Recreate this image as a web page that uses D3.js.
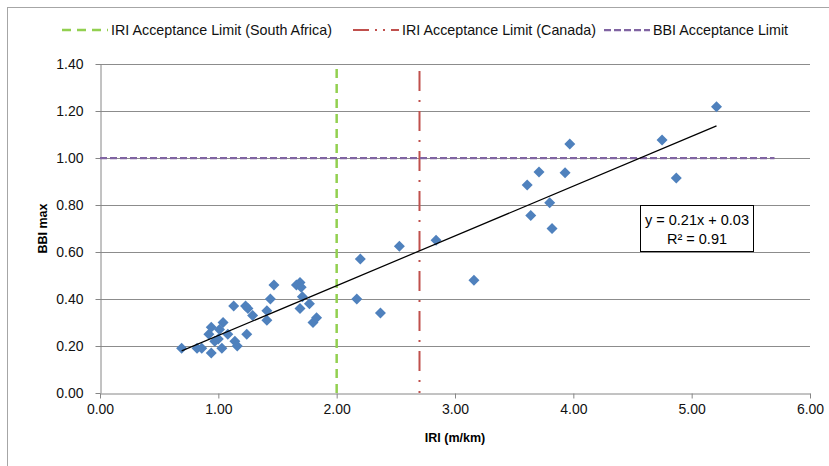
<!DOCTYPE html>
<html>
<head>
<meta charset="utf-8">
<script src="https://cdn.jsdelivr.net/npm/d3@7"></script>
<style>
  body { margin: 0; background: #fff; }
  svg { display: block; font-family: "Liberation Sans", Arial, sans-serif; }
</style>
</head>
<body>
<div id="chart"></div>
<script>
// measured IRI (m/km) and BBI max
const iri = [0.69, 0.82, 0.86, 0.94, 0.92, 0.94, 0.97, 1.00, 1.03, 1.01, 1.04, 1.08, 1.13, 1.14, 1.16,
  1.24, 1.23, 1.25, 1.29, 1.41, 1.41, 1.44, 1.47, 1.66, 1.69, 1.70, 1.71, 1.69, 1.77, 1.80, 1.83,
  2.17, 2.20, 2.37, 2.53, 2.84, 3.16, 3.61, 3.64, 3.71, 3.80, 3.82, 3.93, 3.97, 4.75, 4.87, 5.21];
const bbi = [0.19, 0.19, 0.19, 0.17, 0.25, 0.28, 0.22, 0.23, 0.19, 0.27, 0.30, 0.25, 0.37, 0.22, 0.20,
  0.25, 0.37, 0.36, 0.33, 0.35, 0.31, 0.40, 0.46, 0.46, 0.47, 0.45, 0.41, 0.36, 0.38, 0.30, 0.32,
  0.40, 0.57, 0.34, 0.625, 0.65, 0.48, 0.885, 0.755, 0.94, 0.81, 0.70, 0.937, 1.06, 1.077, 0.915, 1.218];

// acceptance limit series
const saLimitX = [2.0, 2.0];
const saLimitY = [0, 1.4];
const caLimitX = [2.7, 2.7];
const caLimitY = [0, 1.37];
const bbiLimitX = [0, 5.7];
const bbiLimitY = [1.0, 1.0];

const xTicks = [0, 1, 2, 3, 4, 5, 6];
const yTicks = [0, 0.2, 0.4, 0.6, 0.8, 1.0, 1.2, 1.4];
const legendLabels = ["IRI Acceptance Limit (South Africa)", "IRI Acceptance Limit (Canada)", "BBI Acceptance Limit"];

const width = 829, height = 466;
const margin = {top: 64, right: 19, bottom: 73, left: 100};

const svg = d3.select("#chart").append("svg")
  .attr("width", width)
  .attr("height", height);

// outer chart border
svg.append("rect")
  .attr("x", 7.5).attr("y", 7.5)
  .attr("width", 900).attr("height", 600)
  .attr("fill", "none")
  .attr("stroke", "#a6a6a6");

const x = d3.scaleLinear().domain([0, 6]).range([margin.left, width - margin.right]);
const y = d3.scaleLinear().domain([0, 1.4]).range([height - margin.bottom, margin.top]);

// gridlines
svg.append("g")
  .selectAll("line")
  .data(yTicks.slice(1))
  .enter().append("line")
  .attr("x1", x(0)).attr("x2", x(6))
  .attr("y1", d => Math.round(y(d)) + 0.5).attr("y2", d => Math.round(y(d)) + 0.5)
  .attr("stroke", "#8c8c8c")
  .attr("stroke-width", 1);

// axes
const xAxis = svg.append("g")
  .attr("transform", "translate(0," + (Math.round(y(0)) + 0.5) + ")")
  .call(d3.axisBottom(x).tickValues(xTicks).tickFormat(d3.format(".2f")).tickSize(5).tickPadding(6).tickSizeOuter(0));

const yAxis = svg.append("g")
  .attr("transform", "translate(" + (x(0) + 0.5) + ",0)")
  .call(d3.axisLeft(y).tickValues(yTicks).tickFormat(d3.format(".2f")).tickSize(5).tickPadding(12).tickSizeOuter(0));

[xAxis, yAxis].forEach(a => {
  a.select(".domain").attr("stroke", "#868686");
  a.selectAll(".tick line").attr("stroke", "#868686");
  a.selectAll(".tick text")
    .style("font-size", "14px")
    .style("font-family", "'Liberation Sans', Arial, sans-serif")
    .attr("fill", "#111");
});

// axis titles
svg.append("text")
  .attr("x", (x(0) + x(6)) / 2)
  .attr("y", 442)
  .attr("text-anchor", "middle")
  .style("font-size", "12.5px")
  .style("font-weight", "bold")
  .text("IRI (m/km)");

svg.append("text")
  .attr("transform", "translate(47," + (y(0.7)) + ") rotate(-90)")
  .attr("text-anchor", "middle")
  .style("font-size", "12.5px")
  .style("font-weight", "bold")
  .text("BBI max");

const lineGen = d3.line().x(d => x(d[0])).y(d => y(d[1]));

// limit lines
const limits = [
  {xs: saLimitX, ys: saLimitY, color: "#92d050", dash: "9,6", w: 2.5},
  {xs: caLimitX, ys: caLimitY.slice().reverse(), color: "#c0504d", dash: "20,9,2,9", w: 2},
  {xs: bbiLimitX, ys: bbiLimitY, color: "#8064a2", dash: "7,3", w: 2.25}
];

limits.forEach(l => {
  svg.append("path")
    .datum(d3.zip(l.xs, l.ys))
    .attr("d", lineGen)
    .attr("fill", "none")
    .attr("stroke", l.color)
    .attr("stroke-width", l.w)
    .attr("stroke-dasharray", l.dash);
});

// data points (diamonds)
const pts = d3.zip(iri, bbi);
svg.append("g")
  .selectAll("path")
  .data(pts)
  .enter().append("path")
  .attr("transform", d => "translate(" + x(d[0]) + "," + y(d[1]) + ")")
  .attr("d", "M0,-5.5L5.5,0L0,5.5L-5.5,0Z")
  .attr("fill", "#4f81bd");

// linear trendline (least squares)
const mx = d3.mean(iri), my = d3.mean(bbi);
let sxy = 0, sxx = 0;
pts.forEach(p => { sxy += (p[0] - mx) * (p[1] - my); sxx += (p[0] - mx) * (p[0] - mx); });
const slope = sxy / sxx, intercept = my - slope * mx;
const xMin = d3.min(iri), xMax = d3.max(iri);
svg.append("path")
  .datum([[xMin, slope * xMin + intercept], [xMax, slope * xMax + intercept]])
  .attr("d", lineGen)
  .attr("fill", "none")
  .attr("stroke", "#000")
  .attr("stroke-width", 1.25);

// equation label
const eq = svg.append("g").attr("transform", "translate(640,205)");
eq.append("rect")
  .attr("x", 0.5).attr("y", 0.5)
  .attr("width", 113).attr("height", 46)
  .attr("fill", "#fff")
  .attr("stroke", "#000")
  .attr("stroke-width", 1);
eq.append("text")
  .attr("x", 57).attr("y", 20)
  .attr("text-anchor", "middle")
  .style("font-size", "14.5px")
  .text("y = 0.21x + 0.03");
eq.append("text")
  .attr("x", 57).attr("y", 39)
  .attr("text-anchor", "middle")
  .style("font-size", "14.5px")
  .text("R² = 0.91");

// legend
const legendX = [62, 353, 604];
const legend = svg.append("g");
limits.forEach((l, i) => {
  legend.append("line")
    .attr("x1", legendX[i]).attr("x2", legendX[i] + 46)
    .attr("y1", 30).attr("y2", 30)
    .attr("stroke", l.color)
    .attr("stroke-width", l.w)
    .attr("stroke-dasharray", i === 1 ? "16,6,2,6,2,6" : l.dash);
  legend.append("text")
    .attr("x", legendX[i] + 49)
    .attr("y", 35)
    .style("font-size", "14.3px")
    .attr("fill", "#111")
    .text(legendLabels[i]);
});
</script>
</body>
</html>
